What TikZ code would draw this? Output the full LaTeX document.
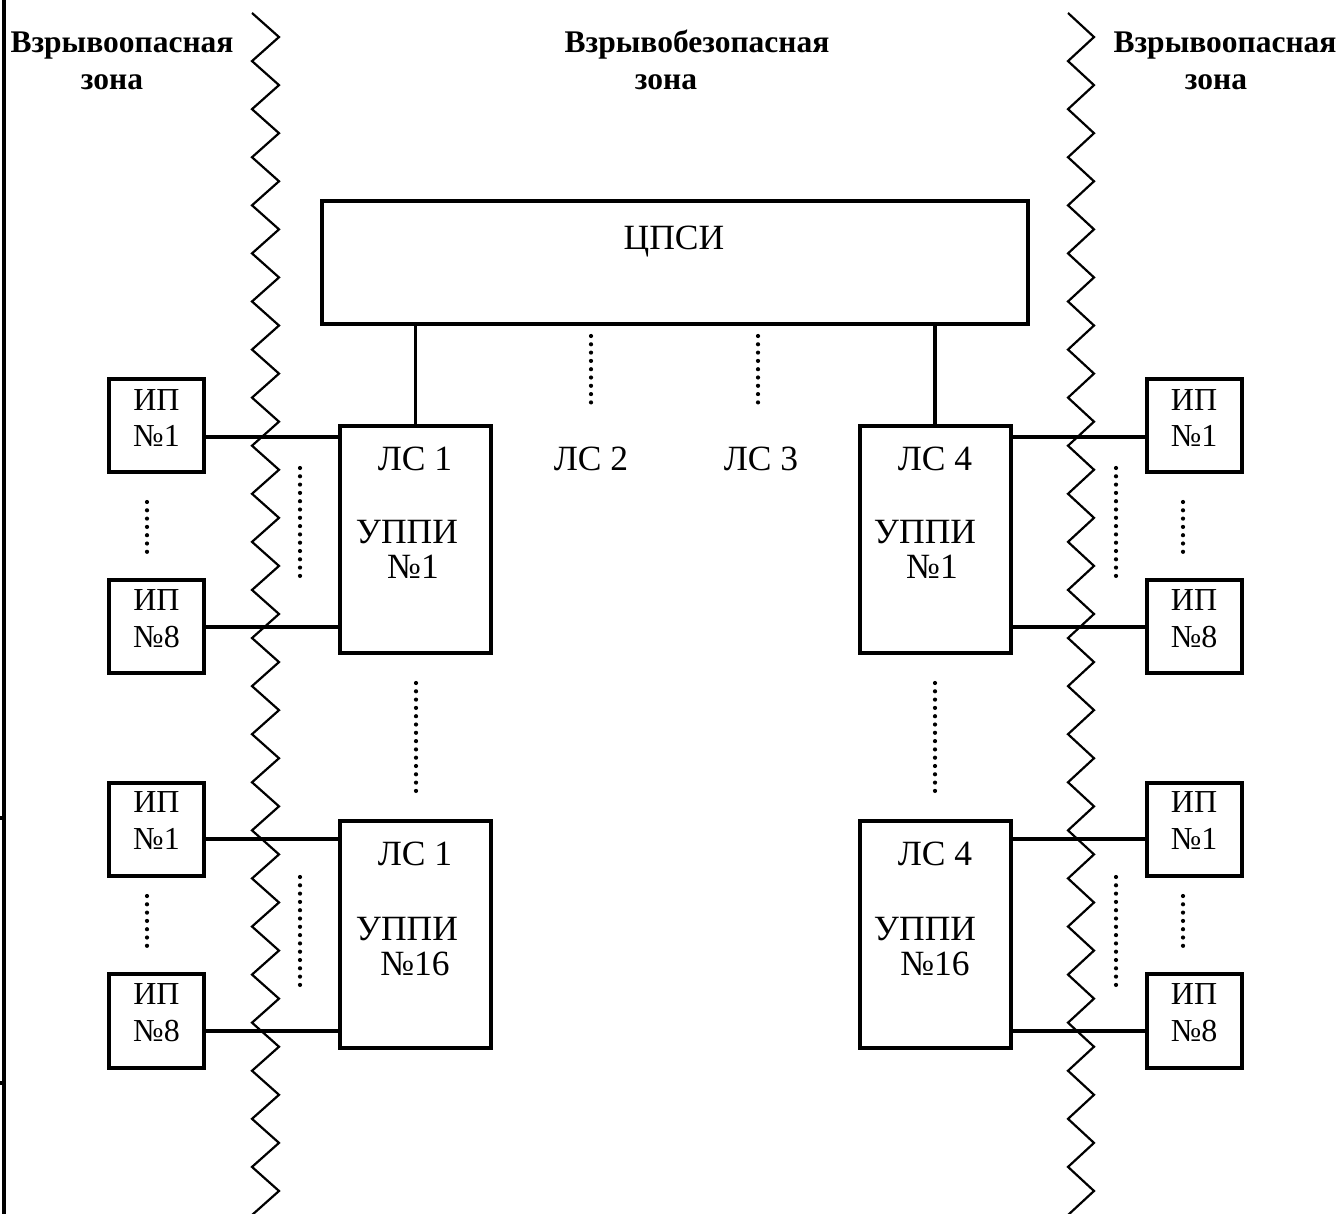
\documentclass[tikz,border=0pt]{standalone}
\usepackage{fontspec}
\setmainfont{Liberation Serif}
\begin{document}
\begin{tikzpicture}[x=1pt,y=-1pt,
  box/.style={draw,line width=4pt,inner sep=0pt},
  conn/.style={line width=3.6pt},
  zig/.style={line width=2.2pt,line join=miter},
  dotline/.style={line width=4.2pt,line cap=round,dash pattern=on 0pt off 8.3pt},
  txt/.style={font=\fontsize{35.5}{40}\selectfont,inner sep=0pt,anchor=base},
  iptxt/.style={font=\fontsize{32}{36}\selectfont,inner sep=0pt,anchor=base},
  head/.style={font=\fontsize{31.5}{36}\selectfont\bfseries,inner sep=0pt,anchor=base}]
\useasboundingbox (0,0) rectangle (1343,1214);

% left border line
\draw[line width=3.4pt] (4,0) -- (4,1214);
\draw[line width=3.4pt] (0,818) -- (4,818);
\draw[line width=3.4pt] (0,1083) -- (4,1083);

% zigzag boundaries
\draw[zig] (252,13) foreach \k in {0,...,24} { -- (279,{13+48.08*\k+24.04}) -- (252,{13+48.08*(\k+1)}) };
\draw[zig] (1068,13) foreach \k in {0,...,24} { -- (1094,{13+48.08*\k+24.04}) -- (1068,{13+48.08*(\k+1)}) };

% headers
\node[head] (h1a) at (122,53) {Взрывоопасная};
\node[head] (h1b) at (112,90) {зона};
\node[head] (h2a) at (697,53) {Взрывобезопасная};
\node[head] (h2b) at (666,90) {зона};
\node[head] (h3a) at (1225,53) {Взрывоопасная};
\node[head] (h3b) at (1216,90) {зона};

% central unit
\node[box,minimum width=706pt,minimum height=123pt] (cpsi) at (675,262.5) {};
\node[txt] (cpsit) at (674,250) {ЦПСИ};

% LS boxes
\node[box,minimum width=151pt,minimum height=227pt] (ls1a) at (415.5,539.5) {};
\node[box,minimum width=151pt,minimum height=227pt] (ls4a) at (935,539.5) {};
\node[box,minimum width=151pt,minimum height=227pt] (ls1b) at (415.5,934.5) {};
\node[box,minimum width=151pt,minimum height=227pt] (ls4b) at (935,934.5) {};

\node[txt] (ls1at) at (415,470) {ЛС 1};
\node[txt] (ls1au) at (407,543) {УППИ};
\node[txt] (ls1an) at (413,578) {№1};
\node[txt] (ls4at) at (935,470) {ЛС 4};
\node[txt] (ls4au) at (925,543) {УППИ};
\node[txt] (ls4an) at (932,578) {№1};
\node[txt] (ls1bt) at (415,865) {ЛС 1};
\node[txt] (ls1bu) at (407,940) {УППИ};
\node[txt] (ls1bn) at (415,975) {№16};
\node[txt] (ls4bt) at (935,865) {ЛС 4};
\node[txt] (ls4bu) at (925,940) {УППИ};
\node[txt] (ls4bn) at (935,975) {№16};

\node[txt] (ls2) at (591,470) {ЛС 2};
\node[txt] (ls3) at (761,470) {ЛС 3};

% stems
\draw[conn] (ls1a.north) -- (ls1a.north |- cpsi.south);
\draw[conn] (ls4a.north) -- (ls4a.north |- cpsi.south);

% IP boxes
\foreach \nm/\cx in {L/156.5,R/1194}{
  \node[box,minimum width=95pt,minimum height=93pt] (ip\nm1a) at (\cx,425.5) {};
  \node[box,minimum width=95pt,minimum height=93pt] (ip\nm8a) at (\cx,626) {};
  \node[box,minimum width=95pt,minimum height=93pt] (ip\nm1b) at (\cx,829) {};
  \node[box,minimum width=95pt,minimum height=94pt] (ip\nm8b) at (\cx,1021) {};
  \node[iptxt] (ip\nm1at) at (\cx,410) {ИП};
  \node[iptxt] (ip\nm1an) at (\cx,446) {№1};
  \node[iptxt] (ip\nm8at) at (\cx,610) {ИП};
  \node[iptxt] (ip\nm8an) at (\cx,647) {№8};
  \node[iptxt] (ip\nm1bt) at (\cx,812) {ИП};
  \node[iptxt] (ip\nm1bn) at (\cx,849) {№1};
  \node[iptxt] (ip\nm8bt) at (\cx,1004) {ИП};
  \node[iptxt] (ip\nm8bn) at (\cx,1041) {№8};
}

% connector levels
\coordinate (ya) at (0,437);
\coordinate (yb) at (0,627);
\coordinate (yc) at (0,839);
\coordinate (yd) at (0,1031);

\draw[conn] (ipL1a.east |- ya) -- (ls1a.west |- ya);
\draw[conn] (ipL8a.east |- yb) -- (ls1a.west |- yb);
\draw[conn] (ipL1b.east |- yc) -- (ls1b.west |- yc);
\draw[conn] (ipL8b.east |- yd) -- (ls1b.west |- yd);
\draw[conn] (ipR1a.west |- ya) -- (ls4a.east |- ya);
\draw[conn] (ipR8a.west |- yb) -- (ls4a.east |- yb);
\draw[conn] (ipR1b.west |- yc) -- (ls4b.east |- yc);
\draw[conn] (ipR8b.west |- yd) -- (ls4b.east |- yd);

% dotted lines
\draw[dotline] (591,336) -- (591,410);
\draw[dotline] (758,336) -- (758,410);
\draw[dotline] (300,468) -- (300,577);
\draw[dotline] (300,877) -- (300,986);
\draw[dotline] (1116,468) -- (1116,577);
\draw[dotline] (1116,877) -- (1116,986);
\draw[dotline] (147,502) -- (147,552);
\draw[dotline] (147,896) -- (147,947);
\draw[dotline] (1183,502) -- (1183,552);
\draw[dotline] (1183,896) -- (1183,947);
\draw[dotline] (416,683) -- (416,792);
\draw[dotline] (935,683) -- (935,792);
\end{tikzpicture}
\end{document}
